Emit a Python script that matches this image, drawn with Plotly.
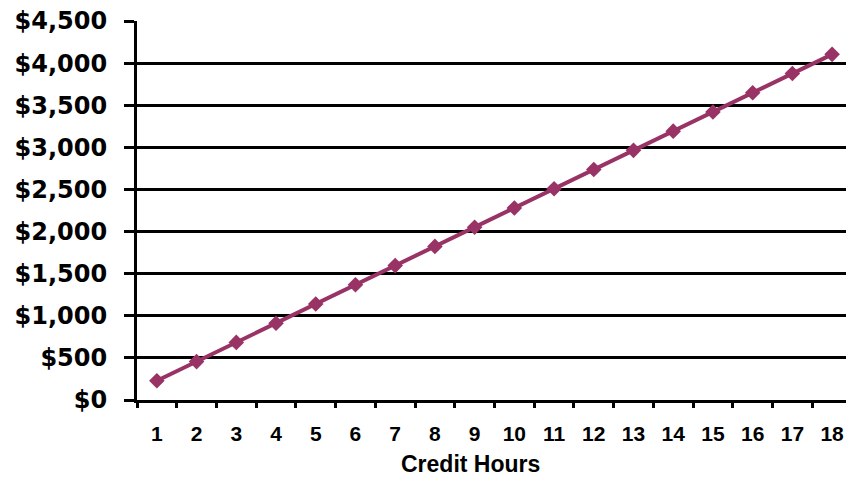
import plotly.graph_objects as go

credit_hours = [str(h) for h in range(1, 19)]
cost = [228, 456, 684, 912, 1140, 1368, 1596, 1824, 2052, 2280,
        2508, 2736, 2964, 3192, 3420, 3648, 3876, 4104]
y_ticks = [0, 500, 1000, 1500, 2000, 2500, 3000, 3500, 4000, 4500]
y_tick_text = ["$0", "$500", "$1,000", "$1,500", "$2,000", "$2,500",
               "$3,000", "$3,500", "$4,000", "$4,500"]
x_title = "Credit Hours"

fig = go.Figure()
fig.add_trace(go.Scatter(
    x=credit_hours, y=cost, mode="lines+markers",
    line=dict(color="#993366", width=4),
    marker=dict(symbol="diamond", size=12, color="#993366"),
    cliponaxis=False, showlegend=False,
))

fig.update_layout(
    width=846, height=478,
    margin=dict(l=137, r=0, t=21, b=78),
    paper_bgcolor="white", plot_bgcolor="white",
    font=dict(family="Liberation Sans, Arial, sans-serif", color="black"),
)
fig.update_xaxes(
    type="category", range=[-0.5, 17.35], automargin=False,
    tickson="boundaries", ticks="outside", ticklen=5, tickwidth=3, tickcolor="black",
    showline=True, linewidth=3, linecolor="black", showgrid=False,
    tickfont=dict(family="Liberation Sans, Arial, sans-serif", size=21, weight="bold"),
    ticklabelstandoff=13,
)
fig.update_yaxes(
    range=[0, 4500], tickvals=y_ticks, ticktext=y_tick_text, automargin=False,
    ticks="outside", ticklen=10, tickwidth=3, tickcolor="black",
    showline=True, linewidth=3, linecolor="black",
    showgrid=True, gridcolor="black", gridwidth=3, zeroline=False,
    tickfont=dict(family="DejaVu Sans, sans-serif", size=24, weight="bold"),
    ticklabelstandoff=12,
)
fig.add_annotation(
    text="<b>" + x_title + "</b>", xref="paper", yref="paper",
    x=0.471, y=-0.169, xanchor="center", yanchor="middle", showarrow=False,
    font=dict(family="Liberation Sans, Arial, sans-serif", size=23, color="black"),
)

fig.write_html(
    "out.html",
    config={"displayModeBar": False},
    post_script="document.body.style.margin='0';document.body.style.overflow='hidden';",
)
